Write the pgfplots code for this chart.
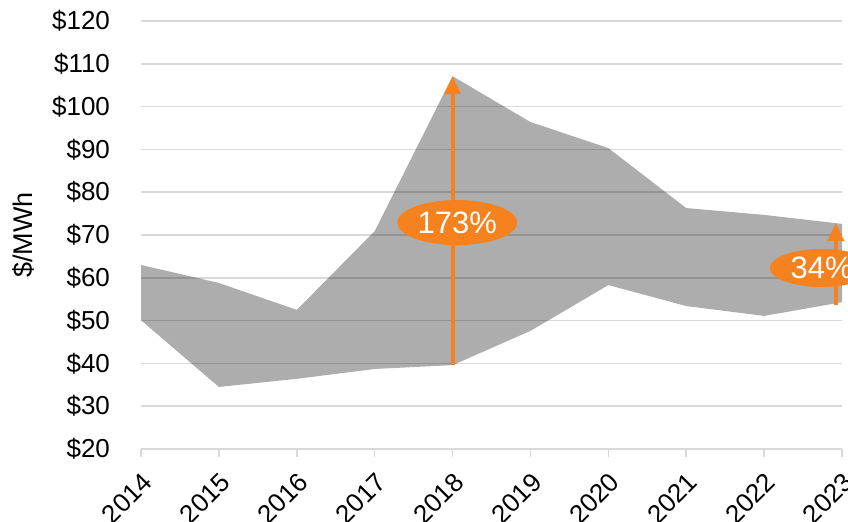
\documentclass[border=0pt]{standalone}
\usepackage{fontspec}
\setmainfont{Liberation Sans}
\usepackage{pgfplots}
\pgfplotsset{compat=1.18}
\usepgfplotslibrary{fillbetween}
\usetikzlibrary{arrows.meta,shapes.geometric,calc}
\definecolor{gridgray}{HTML}{D9D9D9}
\definecolor{myorange}{HTML}{F5821F}
\begin{document}
\begin{tikzpicture}
\begin{axis}[
  scale only axis, width=350.5pt, height=214pt,
  xmin=2014, xmax=2023, ymin=20, ymax=120,
  xtick={2014,2015,...,2023}, ytick={20,30,...,120},
  /pgf/number format/assume math mode=true,
  /pgf/number format/set thousands separator={},
  yticklabel={\$\pgfmathprintnumber{\tick}},
  tick label style={font=\fontsize{13}{15}\selectfont},
  xticklabel style={rotate=45, anchor=north east, inner sep=1pt},
  xticklabel shift=5.5pt,
  yticklabel style={xshift=-8pt},
  ylabel={\$/MWh},
  ylabel style={font=\fontsize{13.5}{15}\selectfont, at={(axis description cs:-0.167,0.5)}, anchor=center},
  axis x line*=bottom, axis y line*=left,
  x axis line style={-, draw=gridgray, line width=0.75pt},
  y axis line style={draw=none},
  xtick style={draw=gridgray, line width=0.75pt},
  ytick style={draw=none},
  tick align=outside, major tick length=4pt,
  ymajorgrids, major grid style={gridgray, line width=0.75pt},
  clip=false,
]
\addplot[name path=U, draw=none] coordinates {
 (2014,63.0) (2015,58.8) (2016,52.5) (2017,70.9) (2018,107.1)
 (2019,96.4) (2020,90.3) (2021,76.3) (2022,74.7) (2023,72.6)};
\addplot[name path=L, draw=none] coordinates {
 (2014,50.1) (2015,34.5) (2016,36.4) (2017,38.7) (2018,39.6)
 (2019,47.6) (2020,58.3) (2021,53.4) (2022,51.1) (2023,54.3)};
\addplot[fill=black, fill opacity=0.32, draw=none] fill between[of=U and L];
\addplot[myorange, line width=2pt, -{Triangle[length=9pt,width=8pt]}] coordinates {(2018,39.6) (2018,107.1)};
\addplot[myorange, line width=2pt, -{Triangle[length=9pt,width=8pt]}] coordinates {(2022.92,53.6) (2022.92,72.8)};
\node[ellipse, fill=myorange, minimum width=60pt, minimum height=22.5pt, inner sep=0pt, text=white, font=\fontsize{15.5}{17}\selectfont] at (axis cs:2018.06,72.9) {173\%};
\node[ellipse, fill=myorange, minimum width=52pt, minimum height=19pt, inner sep=0pt, text=white, font=\fontsize{15.5}{17}\selectfont] at (axis cs:2022.74,62.3) {34\%};
\coordinate (bl) at (rel axis cs:0,0);
\coordinate (tr) at (rel axis cs:1,1);
\end{axis}
\pgfresetboundingbox
\path[use as bounding box] ($(bl)+(-70.5pt,-36pt)$) rectangle ($(tr)+(3pt,10.5pt)$);
\end{tikzpicture}
\end{document}
